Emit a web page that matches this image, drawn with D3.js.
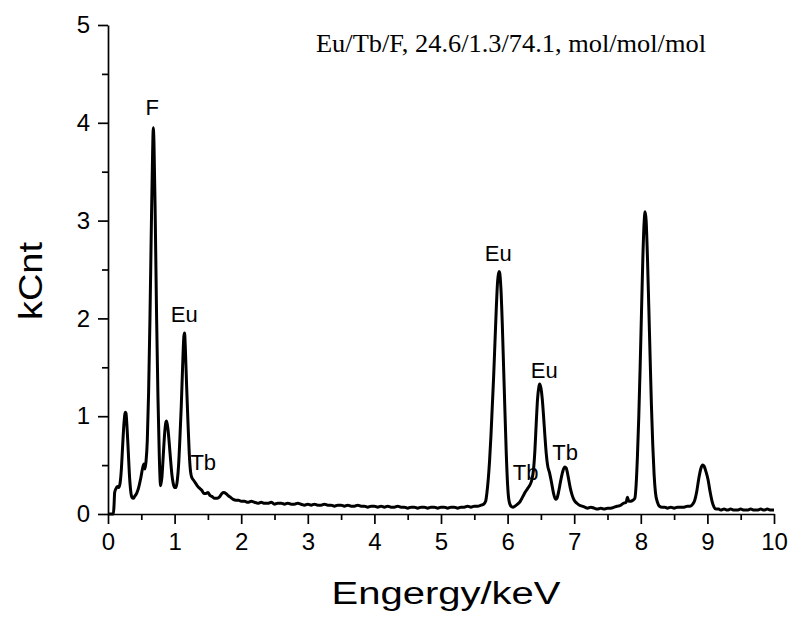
<!DOCTYPE html>
<html>
<head>
<meta charset="utf-8">
<script src="https://cdn.jsdelivr.net/npm/d3@7"></script>
<style>
  html, body { margin: 0; padding: 0; background: #fff; }
  svg { display: block; }
</style>
</head>
<body>
<svg id="chart" width="792" height="619"></svg>
<script>
// EDS spectrum: energy (keV) vs counts (kCnt)
const spectrum = [
  [0.00,0.00],[0.04,0.00],[0.08,0.00],[0.09,0.08],[0.10,0.22],[0.12,0.26],[0.14,0.28],[0.16,0.27],
  [0.18,0.31],[0.20,0.45],[0.22,0.70],[0.24,0.93],[0.26,1.04],[0.27,1.03],[0.28,0.95],[0.30,0.70],
  [0.32,0.42],[0.34,0.24],[0.36,0.17],[0.38,0.16],[0.40,0.18],[0.43,0.21],[0.46,0.27],[0.49,0.36],
  [0.52,0.47],[0.54,0.51],[0.555,0.46],[0.57,0.53],[0.59,0.75],[0.61,1.25],[0.63,2.00],[0.65,2.90],
  [0.67,3.70],[0.68,3.95],[0.69,3.80],[0.71,3.00],[0.73,2.00],[0.75,1.20],[0.77,0.60],[0.79,0.29],
  [0.81,0.38],[0.83,0.60],[0.85,0.82],[0.87,0.94],[0.88,0.95],[0.90,0.87],[0.92,0.72],[0.94,0.55],
  [0.96,0.40],[0.98,0.31],[1.00,0.27],[1.02,0.27],[1.04,0.34],[1.06,0.50],[1.08,0.78],[1.10,1.10],
  [1.12,1.50],[1.14,1.82],[1.15,1.85],[1.16,1.72],[1.18,1.32],[1.20,0.95],[1.22,0.62],[1.24,0.43],
  [1.26,0.37],[1.28,0.35],[1.30,0.33],[1.32,0.31],[1.35,0.28],[1.38,0.26],[1.41,0.24],[1.44,0.21],
  [1.47,0.21],[1.50,0.22],[1.53,0.19],[1.56,0.18],[1.60,0.16],[1.64,0.16],[1.68,0.18],[1.71,0.21],
  [1.74,0.22],[1.77,0.21],[1.80,0.19],[1.84,0.17],[1.88,0.15],[1.92,0.14],[1.96,0.14],[2.00,0.13],
  [2.05,0.13],[2.10,0.12],[2.15,0.13],[2.20,0.12],[2.25,0.11],[2.30,0.12],[2.35,0.11],[2.40,0.11],
  [2.45,0.12],[2.50,0.10],[2.55,0.11],[2.60,0.11],[2.65,0.10],[2.70,0.11],[2.75,0.10],[2.80,0.10],
  [2.85,0.11],[2.90,0.10],[2.95,0.09],[3.00,0.10],[3.05,0.09],[3.10,0.10],[3.15,0.09],[3.20,0.09],
  [3.25,0.10],[3.30,0.09],[3.35,0.09],[3.40,0.08],[3.45,0.09],[3.50,0.09],[3.55,0.08],[3.60,0.09],
  [3.65,0.08],[3.70,0.08],[3.75,0.09],[3.80,0.08],[3.85,0.08],[3.90,0.07],[3.95,0.08],[4.00,0.08],
  [4.05,0.07],[4.10,0.08],[4.15,0.07],[4.20,0.08],[4.25,0.07],[4.30,0.07],[4.35,0.08],[4.40,0.07],
  [4.45,0.07],[4.50,0.06],[4.55,0.07],[4.60,0.07],[4.65,0.06],[4.70,0.07],[4.75,0.07],[4.80,0.06],
  [4.85,0.07],[4.90,0.07],[4.95,0.06],[5.00,0.07],[5.05,0.07],[5.10,0.06],[5.15,0.07],[5.20,0.07],
  [5.25,0.06],[5.30,0.07],[5.35,0.07],[5.40,0.08],[5.45,0.07],[5.50,0.08],[5.55,0.08],[5.60,0.09],
  [5.64,0.10],[5.67,0.13],[5.69,0.22],[5.71,0.36],[5.73,0.55],[5.75,0.80],[5.77,1.10],[5.79,1.40],
  [5.81,1.75],[5.83,2.10],[5.85,2.38],[5.87,2.48],[5.88,2.47],[5.90,2.30],[5.92,1.95],[5.94,1.50],
  [5.96,1.05],[5.98,0.62],[6.00,0.30],[6.02,0.14],[6.05,0.08],[6.08,0.07],[6.11,0.08],[6.15,0.10],
  [6.19,0.13],[6.23,0.18],[6.27,0.23],[6.30,0.26],[6.33,0.29],[6.36,0.34],[6.39,0.46],[6.41,0.65],
  [6.43,0.93],[6.45,1.18],[6.47,1.30],[6.48,1.33],[6.50,1.29],[6.52,1.18],[6.54,1.00],[6.56,0.80],
  [6.58,0.62],[6.60,0.50],[6.63,0.42],[6.66,0.32],[6.69,0.21],[6.72,0.15],[6.74,0.16],[6.77,0.24],
  [6.80,0.35],[6.83,0.44],[6.86,0.48],[6.88,0.47],[6.91,0.38],[6.94,0.27],[6.97,0.19],[7.00,0.14],
  [7.04,0.11],[7.08,0.09],[7.12,0.08],[7.16,0.07],[7.20,0.06],[7.25,0.07],[7.30,0.06],[7.35,0.05],
  [7.40,0.06],[7.45,0.05],[7.50,0.06],[7.55,0.06],[7.60,0.07],[7.65,0.08],[7.70,0.09],[7.74,0.11],
  [7.78,0.12],[7.80,0.17],[7.82,0.13],[7.85,0.13],[7.88,0.14],[7.91,0.16],[7.93,0.30],[7.95,0.60],
  [7.97,1.00],[7.99,1.50],[8.01,2.05],[8.03,2.60],[8.05,2.98],[8.065,3.09],[8.08,3.00],[8.10,2.62],
  [8.12,2.12],[8.14,1.60],[8.16,1.10],[8.18,0.70],[8.20,0.40],[8.22,0.22],[8.25,0.12],[8.28,0.08],
  [8.32,0.07],[8.36,0.07],[8.40,0.06],[8.45,0.07],[8.50,0.06],[8.55,0.07],[8.60,0.07],[8.65,0.07],
  [8.70,0.08],[8.74,0.08],[8.78,0.10],[8.81,0.14],[8.84,0.23],[8.87,0.36],[8.90,0.46],[8.93,0.50],
  [8.95,0.49],[8.98,0.43],[9.01,0.35],[9.04,0.23],[9.07,0.13],[9.10,0.07],[9.13,0.05],[9.17,0.05],
  [9.20,0.04],[9.25,0.05],[9.30,0.04],[9.35,0.05],[9.40,0.04],[9.45,0.04],[9.50,0.05],[9.55,0.04],
  [9.60,0.04],[9.65,0.05],[9.70,0.04],[9.75,0.04],[9.80,0.05],[9.85,0.04],[9.90,0.05],[9.95,0.04],
  [10.0,0.04]
];

// Element labels placed at (energy, counts) of their text baseline centre
const peakLabels = [
  { text: "F",  x: 0.665, y: 4.08 },
  { text: "Eu", x: 1.146, y: 1.96 },
  { text: "Tb", x: 1.43,  y: 0.45 },
  { text: "Eu", x: 5.86,  y: 2.59 },
  { text: "Tb", x: 6.27,  y: 0.35 },
  { text: "Eu", x: 6.55,  y: 1.39 },
  { text: "Tb", x: 6.865, y: 0.55 }
];

const xMajorTicks = [0, 1, 2, 3, 4, 5, 6, 7, 8, 9, 10];
const xMinorTicks = [0.5, 1.5, 2.5, 3.5, 4.5, 5.5, 6.5, 7.5, 8.5, 9.5];
const yMajorTicks = [0, 1, 2, 3, 4, 5];
const yMinorTicks = [0.5, 1.5, 2.5, 3.5, 4.5];

const titleText = "Eu/Tb/F, 24.6/1.3/74.1, mol/mol/mol";
const xTitle = "Engergy/keV";
const yTitle = "kCnt";

const W = 792, H = 619;
const margin = { left: 108, right: 18, top: 25, bottom: 105 };
const svg = d3.select("#chart");

const x = d3.scaleLinear().domain([0, 10]).range([margin.left, W - margin.right]);
const y = d3.scaleLinear().domain([0, 5]).range([H - margin.bottom, margin.top]);

const sans = "'Liberation Sans', Arial, Helvetica, sans-serif";
const serif = "'Liberation Serif', 'Times New Roman', serif";

// Axes: major ticks with labels, minor ticks without
function styleAxis(g) {
  g.selectAll("path.domain").attr("stroke", "#000").attr("stroke-width", 1.7);
  g.selectAll(".tick line").attr("stroke", "#000").attr("stroke-width", 1.7);
  g.selectAll(".tick text").attr("fill", "#000").attr("font-family", sans).attr("font-size", 24);
}

const xAxisG = svg.append("g")
  .attr("transform", `translate(0,${y(0)})`)
  .call(d3.axisBottom(x).tickValues(xMajorTicks).tickSize(10).tickSizeOuter(0).tickPadding(9)
    .tickFormat(d3.format("d")));
styleAxis(xAxisG);

svg.append("g")
  .attr("transform", `translate(0,${y(0)})`)
  .call(d3.axisBottom(x).tickValues(xMinorTicks).tickSize(6).tickFormat(""))
  .call(g => g.select("path.domain").remove())
  .call(styleAxis);

const yAxisG = svg.append("g")
  .attr("transform", `translate(${x(0)},0)`)
  .call(d3.axisLeft(y).tickValues(yMajorTicks).tickSize(10).tickSizeOuter(0).tickPadding(8)
    .tickFormat(d3.format("d")));
styleAxis(yAxisG);

svg.append("g")
  .attr("transform", `translate(${x(0)},0)`)
  .call(d3.axisLeft(y).tickValues(yMinorTicks).tickSize(6).tickFormat(""))
  .call(g => g.select("path.domain").remove())
  .call(styleAxis);

// Spectrum trace
const line = d3.line()
  .x(d => x(d[0]))
  .y(d => y(d[1]))
  .curve(d3.curveMonotoneX);

svg.append("path")
  .datum(spectrum)
  .attr("d", line)
  .attr("fill", "none")
  .attr("stroke", "#000")
  .attr("stroke-width", 3)
  .attr("stroke-linejoin", "round");

// Peak annotations
svg.append("g").selectAll("text")
  .data(peakLabels)
  .join("text")
  .attr("x", d => x(d.x))
  .attr("y", d => y(d.y))
  .attr("text-anchor", "middle")
  .attr("font-family", sans)
  .attr("font-size", 22)
  .attr("fill", "#000")
  .text(d => d.text);

// Composition note
svg.append("text")
  .attr("x", 316)
  .attr("y", 52)
  .attr("font-family", serif)
  .attr("font-size", 25)
  .attr("textLength", 390)
  .attr("lengthAdjust", "spacingAndGlyphs")
  .attr("fill", "#000")
  .text(titleText);

// Axis titles
svg.append("text")
  .attr("x", 446)
  .attr("y", 604)
  .attr("text-anchor", "middle")
  .attr("font-family", sans)
  .attr("font-size", 31)
  .attr("textLength", 229)
  .attr("lengthAdjust", "spacingAndGlyphs")
  .attr("fill", "#000")
  .text(xTitle);

svg.append("text")
  .attr("transform", `translate(42,281) rotate(-90)`)
  .attr("text-anchor", "middle")
  .attr("font-family", sans)
  .attr("font-size", 34)
  .attr("textLength", 78)
  .attr("lengthAdjust", "spacingAndGlyphs")
  .attr("fill", "#000")
  .text(yTitle);
</script>
</body>
</html>
